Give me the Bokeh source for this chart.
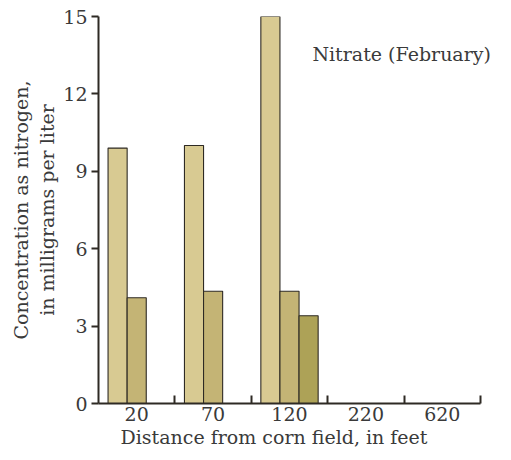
from bokeh.plotting import figure
from bokeh.models import ColumnDataSource, FixedTicker, Label, Range1d, Title
from bokeh.embed import file_html
from bokeh.resources import INLINE

# Distances from the corn field (feet) and nitrate concentration (mg/L as N)
categories = ["20", "70", "120", "220", "620"]
series_a = [9.9, 10.0, 15.0, 0.0, 0.0]
series_b = [4.1, 4.35, 4.35, 0.0, 0.0]
series_c = [0.0, 0.0, 3.4, 0.0, 0.0]
y_ticks = [0, 3, 6, 9, 12, 15]

FONT = "DejaVu Serif"
TEXT = "#3a3a3a"
INK = "#2e2a24"

n = len(categories)
# the frame runs to the right edge so the caption is not clipped;
# the x axis line itself stops at the last group boundary
x_end = n * (511 - 98) / 382

p = figure(width=511, height=460, output_backend="svg", toolbar_location=None,
           x_range=Range1d(0, x_end), y_range=Range1d(0, 15),
           min_border_left=98, min_border_right=0, min_border_top=16,
           min_border_bottom=57)
p.outline_line_color = None
p.grid.visible = False
p.background_fill_color = "white"
p.border_fill_color = "white"

bar_w = 0.25
colors = ["#d8ca92", "#c4b475", "#ada257"]
for k, (vals, col) in enumerate(zip([series_a, series_b, series_c], colors)):
    offset = (k - 1) * bar_w
    xs, tops = [], []
    for i, v in enumerate(vals):
        if v > 0:
            xs.append(i + 0.5 + offset)
            tops.append(v)
    src = ColumnDataSource(dict(x=xs, top=tops))
    p.vbar(x="x", top="top", bottom=0, width=bar_w, source=src,
           fill_color=col, line_color=INK, line_width=1.1)

# x axis: labels at group centres, short inward ticks at group boundaries
xa = p.xaxis[0]
xa.bounds = (0, n)
xa.ticker = FixedTicker(ticks=[i + 0.5 for i in range(n)],
                        minor_ticks=[i + 1 for i in range(n)])
xa.major_label_overrides = {i + 0.5: c for i, c in enumerate(categories)}
xa.major_tick_in = 0
xa.major_tick_out = 0
xa.minor_tick_in = 8
xa.minor_tick_out = 0
xa.minor_tick_line_color = INK
xa.minor_tick_line_width = 2
xa.axis_line_color = INK
xa.axis_line_width = 2
xa.major_label_standoff = 3

ya = p.yaxis[0]
ya.ticker = FixedTicker(ticks=y_ticks, minor_ticks=[])
ya.major_tick_in = 0
ya.major_tick_out = 7
ya.major_tick_line_color = INK
ya.major_tick_line_width = 2
ya.axis_line_color = INK
ya.axis_line_width = 2
ya.axis_label = "Concentration as nitrogen,\nin milligrams per liter"
ya.axis_label_standoff = 2
ya.major_label_standoff = 4

for ax in (xa, ya):
    ax.major_label_text_font = FONT
    ax.major_label_text_font_size = "19px"
    ax.major_label_text_color = TEXT
    ax.axis_label_text_font = FONT
    ax.axis_label_text_font_size = "19px"
    ax.axis_label_text_font_style = "normal"
    ax.axis_label_text_color = TEXT

# x axis title, placed under the group labels
p.add_layout(Title(text="Distance from corn field, in feet", align="left",
                   offset=22, standoff=0, text_font=FONT,
                   text_font_size="19px", text_font_style="normal",
                   text_color=TEXT), "below")

p.add_layout(Label(x=2.8, y=13.56, text="Nitrate  (February)", text_font=FONT,
                   text_font_size="19px", text_color=TEXT,
                   text_baseline="middle", text_align="left"))

open("out.html", "w").write(file_html(p, INLINE))
